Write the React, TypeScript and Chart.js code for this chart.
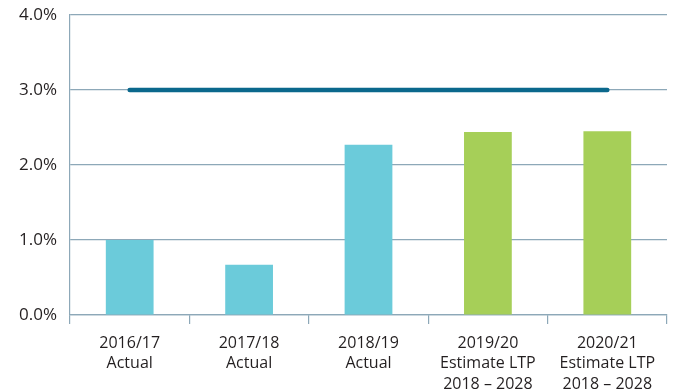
import React, { useEffect, useRef } from "react";
import { Chart, registerables } from "chart.js";

Chart.register(...registerables);

const categories: string[][] = [
  ["2016/17", "Actual"],
  ["2017/18", "Actual"],
  ["2018/19", "Actual"],
  ["2019/20", "Estimate LTP", "2018 – 2028"],
  ["2020/21", "Estimate LTP", "2018 – 2028"],
];
const rateValues: number[] = [1.0, 0.67, 2.27, 2.44, 2.45];
const barColours: string[] = ["#6BCBDA", "#6BCBDA", "#6BCBDA", "#A6CF58", "#A6CF58"];
const limitValues: number[] = [3.0, 3.0, 3.0, 3.0, 3.0];
const yTicks: number[] = [0, 1, 2, 3, 4];

const GRID = "#8DA8B8";
const TEXT = "#231F20";
const FONT = "'Open Sans', sans-serif";

export default function App() {
  const ref = useRef<HTMLCanvasElement | null>(null);

  useEffect(() => {
    if (!ref.current) return;
    const chart = new Chart(ref.current, {
      type: "bar",
      data: {
        labels: categories,
        datasets: [
          {
            type: "line",
            data: limitValues,
            borderColor: "#0B688C",
            borderWidth: 4.5,
            borderCapStyle: "round",
            pointRadius: 0,
            fill: false,
            order: 0,
          },
          {
            type: "bar",
            data: rateValues,
            backgroundColor: barColours,
            barPercentage: 0.4,
            categoryPercentage: 1,
            order: 1,
          },
        ],
      },
      options: {
        animation: false,
        responsive: false,
        maintainAspectRatio: false,
        layout: { autoPadding: false, padding: { top: 15, right: 8, left: 0, bottom: 0 } },
        plugins: { legend: { display: false }, tooltip: { enabled: false } },
        scales: {
          x: {
            offset: true,
            grid: {
              offset: true,
              drawOnChartArea: false,
              drawTicks: true,
              tickLength: 9,
              color: GRID,
              lineWidth: 1.2,
            },
            border: { color: GRID, width: 1.2 },
            ticks: {
              color: TEXT,
              padding: 9,
              maxRotation: 0,
              autoSkip: false,
              font: { family: FONT, size: 16, lineHeight: 1.28 },
            },
            afterFit: (s: any) => {
              s.height = 77;
            },
          },
          y: {
            min: 0,
            max: 4,
            afterBuildTicks: (s: any) => {
              s.ticks = yTicks.map((v) => ({ value: v }));
            },
            grid: { color: GRID, lineWidth: 1.2, drawTicks: false },
            border: { color: GRID, width: 1.2 },
            ticks: {
              color: TEXT,
              padding: 13,
              font: { family: FONT, size: 17 },
              callback: (v: any) => Number(v).toFixed(1) + "%",
            },
            afterFit: (s: any) => {
              s.width = 70;
              s.paddingTop = 0;
              s.paddingBottom = 0;
            },
          },
        },
      },
    });
    return () => chart.destroy();
  }, []);

  return (
    <div style={{ position: "fixed", left: 0, top: 0, width: 675, height: 392, background: "#fff" }}>
      <canvas ref={ref} width={675} height={392} />
    </div>
  );
}
